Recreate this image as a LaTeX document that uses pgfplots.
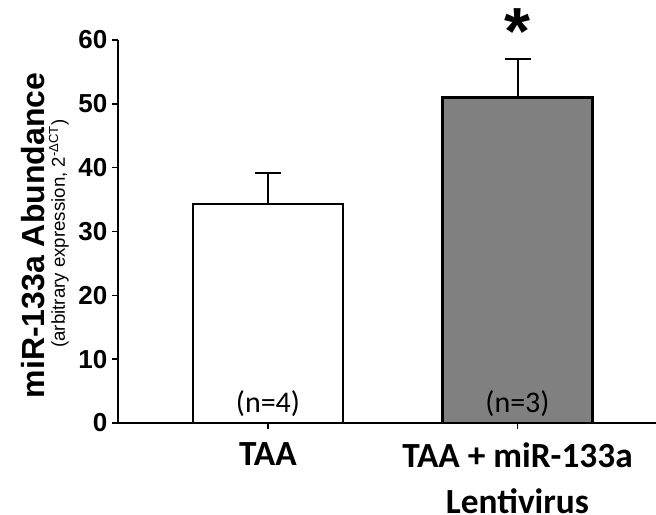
\documentclass[border=0pt]{standalone}
\usepackage{pgfplots}
\pgfplotsset{compat=1.18}
\usepackage{fontspec}
\setmainfont{Liberation Sans}
\newfontfamily\calibri{Carlito}
\definecolor{bargray}{HTML}{808080}

\begin{document}
\begin{tikzpicture}
\begin{axis}[
  scale only axis,
  width=403.5pt, height=287.25pt,
  axis lines=left,
  axis line style={-, line width=1.5pt},
  xmin=-0.601, xmax=1.555,
  ymin=0, ymax=60,
  ytick={0,10,...,60},
  yticklabel={\fontsize{19.5}{23}\selectfont\bfseries\pgfmathprintnumber{\tick}},
  xtick={0,1},
  xticklabels={TAA, {TAA + miR-133a\\[4pt]Lentivirus}},
  xticklabel style={align=center, yshift=-7pt,
    font=\calibri\bfseries\fontsize{26.5}{30}\selectfont},
  /pgf/number format/assume math mode=true,
  tick align=outside,
  major tick length=4.5pt,
  tick style={line width=1.2pt, black},
  clip=false,
  ybar, bar width=0.6,
]
% TAA
\addplot[fill=white, draw=black, line width=1.5pt, bar shift=0pt,
  error bars/.cd, y dir=plus, y explicit,
  error bar style={line width=1.5pt, black},
  error mark options={rotate=90, line width=1.5pt, black, mark size=9.75pt}]
  coordinates {(0,34.3) +- (0,4.8)};
% TAA + miR-133a lentivirus
\addplot[fill=bargray, draw=black, line width=2.2pt, bar shift=0pt,
  error bars/.cd, y dir=plus, y explicit,
  error bar style={line width=1.5pt, black},
  error mark options={rotate=90, line width=1.5pt, black, mark size=9.75pt}]
  coordinates {(1,51.0) +- (0,6.0)};

\node[anchor=base, font=\calibri\fontsize{22.5}{27}\selectfont] at (axis cs:0,1.72) {(n=4)};
\node[anchor=base, font=\calibri\fontsize{22.5}{27}\selectfont] at (axis cs:1,1.72) {(n=3)};
\node[anchor=base, font=\bfseries\fontsize{50}{56}\selectfont] at (axis cs:1,57.7) {*};

\node[rotate=90, anchor=base, font=\bfseries\fontsize{24}{28}\selectfont]
  at ([xshift=-54.75pt, yshift=-3pt]rel axis cs:0,0.5) {miR-133a Abundance};
\node[rotate=90, anchor=base, font=\fontsize{14}{16}\selectfont]
  at ([xshift=-39.75pt, yshift=-1.5pt]rel axis cs:0,0.5) {(arbitrary expression, 2\textsuperscript{-ΔCT})};
\end{axis}
\pgfresetboundingbox
\path[use as bounding box] ([xshift=-88.5pt, yshift=-69pt]current axis.south west)
  rectangle ([yshift=30pt]current axis.north east);
\end{tikzpicture}
\end{document}
